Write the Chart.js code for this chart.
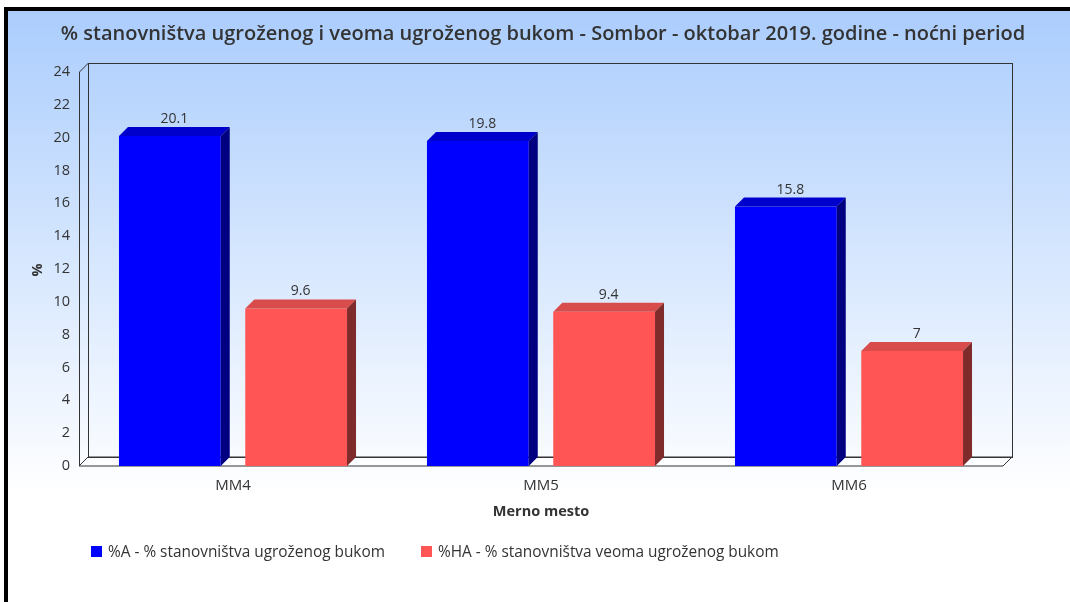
<!DOCTYPE html>
<html><head><meta charset="utf-8">
<script src="https://cdn.jsdelivr.net/npm/chart.js@4.4.1/dist/chart.umd.min.js"></script>
<style>html,body{margin:0;padding:0;background:#fff;overflow:hidden}#wrap{width:1070px;height:602px;position:relative}</style>
</head><body><div id="wrap"><canvas id="c" width="1070" height="602"></canvas></div>
<script>
const categories = ['MM4', 'MM5', 'MM6'];
const seriesA = [20.1, 19.8, 15.8];
const seriesHA = [9.6, 9.4, 7];
const seriesNames = ['%A - % stanovništva ugroženog bukom', '%HA - % stanovništva veoma ugroženog bukom'];
const yMin = 0, yMax = 24, yStep = 2;
const titleText = '% stanovništva ugroženog i veoma ugroženog bukom - Sombor - oktobar 2019. godine - noćni period';
const xTitle = 'Merno mesto';
const yTitle = '%';

const FONT = "'Open Sans', 'Segoe UI', sans-serif";
const TXT = '#333333';
const DEPTH = 9;
const faces = [
  {front: '#0000ff', top: '#0000cc', side: '#000080'},
  {front: '#ff5555', top: '#d94c4c', side: '#802b2b'}
];

const decor = {
  id: 'decor',
  beforeDraw(chart) {
    const ctx = chart.ctx;
    ctx.save();
    ctx.fillStyle = '#ffffff';
    ctx.fillRect(0, 0, chart.width, chart.height);
    const g = ctx.createLinearGradient(0, 10, 0, 495);
    g.addColorStop(0, '#abcdfd');
    g.addColorStop(1, '#ffffff');
    ctx.fillStyle = g;
    ctx.fillRect(8, 10, chart.width - 8, chart.height - 10);
    ctx.fillStyle = '#000';
    ctx.fillRect(4, 7, chart.width - 4, 4);
    ctx.fillRect(4, 7, 4, chart.height - 7);
    // title
    ctx.fillStyle = TXT;
    ctx.font = "600 20px " + FONT;
    ctx.textAlign = 'center';
    ctx.textBaseline = 'middle';
    ctx.fillText(titleText, 543, 34);
    // x title
    ctx.font = "bold 14.5px " + FONT;
    ctx.fillText(xTitle, 541, 512);
    // y title
    ctx.save();
    ctx.translate(38, 270);
    ctx.rotate(-Math.PI / 2);
    ctx.fillText(yTitle, 0, 0);
    ctx.restore();
    // legend
    ctx.font = "15.4px " + FONT;
    ctx.textAlign = 'left';
    const legendX = [91, 421];
    seriesNames.forEach((n, i) => {
      ctx.fillStyle = faces[i].front;
      ctx.fillRect(legendX[i], 546, 11, 11);
      ctx.fillStyle = TXT;
      ctx.fillText(n, legendX[i] + 17, 553);
    });
    ctx.restore();
  },
  beforeDatasetsDraw(chart) {
    const ctx = chart.ctx;
    const a = chart.chartArea;
    const d = DEPTH;
    ctx.save();
    ctx.strokeStyle = '#333';
    ctx.lineWidth = 1;
    ctx.fillStyle = 'rgba(255,255,255,0.55)';
    ctx.beginPath();
    ctx.moveTo(a.left, a.bottom);
    ctx.lineTo(a.left + d, a.bottom - d);
    ctx.lineTo(a.right + d, a.bottom - d);
    ctx.lineTo(a.right, a.bottom);
    ctx.closePath();
    ctx.fill();
    ctx.stroke();
    ctx.beginPath();
    ctx.moveTo(a.left + 0.5, a.bottom);
    ctx.lineTo(a.left + 0.5, a.top);
    ctx.lineTo(a.left + d + 0.5, a.top - d);
    ctx.stroke();
    ctx.strokeRect(a.left + d + 0.5, a.top - d + 0.5, a.right - a.left, a.bottom - a.top);
    ctx.restore();
  },
  afterDatasetsDraw(chart) {
    const ctx = chart.ctx;
    const d = DEPTH;
    ctx.save();
    chart.data.datasets.forEach((ds, di) => {
      const meta = chart.getDatasetMeta(di);
      meta.data.forEach((bar, i) => {
        const p = bar.getProps(['x', 'y', 'base', 'width'], true);
        const l = p.x - p.width / 2, r = p.x + p.width / 2;
        ctx.fillStyle = faces[di].top;
        ctx.beginPath();
        ctx.moveTo(l, p.y); ctx.lineTo(l + d, p.y - d); ctx.lineTo(r + d, p.y - d); ctx.lineTo(r, p.y);
        ctx.closePath(); ctx.fill();
        ctx.fillStyle = faces[di].side;
        ctx.beginPath();
        ctx.moveTo(r, p.y); ctx.lineTo(r + d, p.y - d); ctx.lineTo(r + d, p.base - d); ctx.lineTo(r, p.base);
        ctx.closePath(); ctx.fill();
        ctx.fillStyle = TXT;
        ctx.font = "14px " + FONT;
        ctx.textAlign = 'center';
        ctx.textBaseline = 'alphabetic';
        ctx.fillText(String(ds.data[i]), p.x + d / 2, p.y - d - 4);
      });
    });
    ctx.restore();
  }
};

new Chart(document.getElementById('c'), {
  type: 'bar',
  data: {
    labels: categories,
    datasets: [
      {label: seriesNames[0], data: seriesA, backgroundColor: faces[0].front, borderWidth: 0},
      {label: seriesNames[1], data: seriesHA, backgroundColor: faces[1].front, borderWidth: 0}
    ]
  },
  options: {
    responsive: false,
    animation: false,
    devicePixelRatio: 1,
    categoryPercentage: 0.82,
    barPercentage: 0.806,
    layout: {padding: {left: 0, top: 72, right: 67, bottom: 0}},
    plugins: {legend: {display: false}, title: {display: false}, tooltip: {enabled: false}},
    scales: {
      x: {
        grid: {display: false, drawTicks: false},
        border: {display: false},
        ticks: {color: TXT, font: {family: FONT, size: 15}, padding: 11},
        afterFit(s) { s.height = 136; }
      },
      y: {
        min: yMin, max: yMax,
        grid: {display: false, drawTicks: false},
        border: {display: false},
        ticks: {stepSize: yStep, color: TXT, font: {family: FONT, size: 14.5}, padding: 9},
        afterFit(s) { s.width = 79; }
      }
    }
  },
  plugins: [decor]
});
</script>
</body></html>
